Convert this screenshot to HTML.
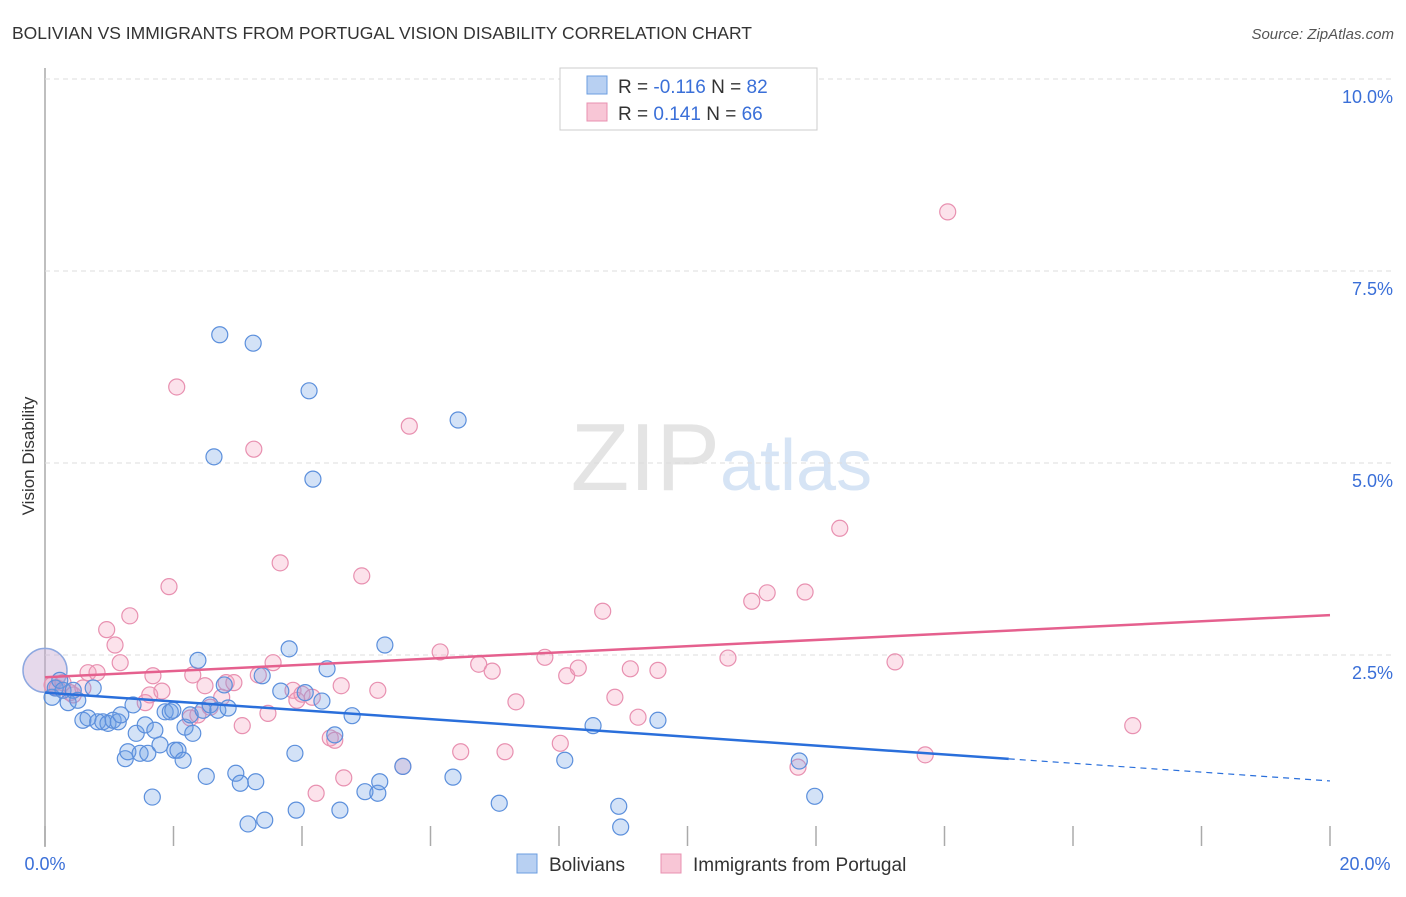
<!DOCTYPE html>
<html><head><meta charset="utf-8"><style>
body{margin:0;background:#fff;font-family:"Liberation Sans",sans-serif;}
svg text{font-family:"Liberation Sans",sans-serif;}
</style></head><body>
<svg id="chart" width="1406" height="892">
<text x="12" y="39" font-size="17.5" fill="#333">BOLIVIAN VS IMMIGRANTS FROM PORTUGAL VISION DISABILITY CORRELATION CHART</text>
<text x="1394" y="39" font-size="15" fill="#555" font-style="italic" text-anchor="end">Source: ZipAtlas.com</text>
<text x="34" y="456" font-size="17" fill="#333" transform="rotate(-90 34 456)" text-anchor="middle">Vision Disability</text>
<text x="720" y="490" font-size="96" fill="#e4e4e4" text-anchor="end" font-family="Liberation Serif">ZIP</text>
<text x="720" y="490" font-size="72" fill="#d6e4f5">atlas</text>
<g id="grid"></g><g id="pts"></g><g id="lines"></g>
<g>
<rect x="560" y="68" width="257" height="62" fill="#fff" stroke="#ccc"/>
<rect x="587" y="76" width="20" height="18" fill="#b8d0f2" stroke="#6b9ee0"/>
<rect x="587" y="103" width="20" height="18" fill="#f8c6d6" stroke="#e890b0"/>
<text x="618" y="93" font-size="19" fill="#333">R = <tspan fill="#3a6fd8">-0.116</tspan>   N = <tspan fill="#3a6fd8">82</tspan></text>
<text x="618" y="120" font-size="19" fill="#333">R =   <tspan fill="#3a6fd8">0.141</tspan>   N = <tspan fill="#3a6fd8">66</tspan></text>
</g>
<g>
<rect x="517" y="854" width="20" height="19" fill="#b8d0f2" stroke="#6b9ee0"/>
<text x="549" y="871" font-size="19" fill="#333">Bolivians</text>
<rect x="661" y="854" width="20" height="19" fill="#f8c6d6" stroke="#e890b0"/>
<text x="693" y="871" font-size="19" fill="#333">Immigrants from Portugal</text>
</g>
</svg>
<script>
const xTicks=[0,2,4,6,8,10,12,14,16,18,20];
const yTicks=[2.5,5,7.5,10];
const yTickLabels=["2.5%","5.0%","7.5%","10.0%"];
const xLabels=["0.0%","20.0%"];
const boliviansX=[0.11,0.16,0.23,0.28,0.36,0.44,0.51,0.59,0.67,0.75,0.82,0.90,0.98,1.06,1.14,1.18,1.25,1.29,1.37,1.42,1.48,1.56,1.60,1.67,1.71,1.79,1.87,1.95,1.99,2.02,2.07,2.15,2.18,2.26,2.30,2.38,2.46,2.51,2.57,2.63,2.69,2.72,2.79,2.85,2.97,3.04,3.16,3.24,3.28,3.38,3.42,3.67,3.80,3.89,3.91,4.05,4.11,4.17,4.31,4.39,4.51,4.59,4.78,4.98,5.18,5.21,5.29,5.57,6.35,6.43,7.07,8.09,8.53,8.93,8.96,9.54,11.74,11.98];
const boliviansY=[1.95,2.07,2.17,2.04,1.88,2.04,1.91,1.65,1.68,2.07,1.63,1.63,1.61,1.65,1.63,1.72,1.15,1.24,1.85,1.48,1.22,1.59,1.22,0.65,1.52,1.33,1.76,1.76,1.78,1.26,1.26,1.13,1.56,1.72,1.48,2.43,1.78,0.92,1.85,5.08,1.78,6.67,2.11,1.81,0.96,0.83,0.30,6.56,0.85,2.23,0.35,2.03,2.58,1.22,0.48,2.01,5.94,4.79,1.90,2.32,1.46,0.48,1.71,0.72,0.70,0.85,2.63,1.05,0.91,5.56,0.57,1.13,1.58,0.53,0.26,1.65,1.12,0.66];
const portugalX=[0.11,0.19,0.28,0.39,0.44,0.59,0.67,0.81,0.96,1.09,1.17,1.32,1.56,1.63,1.68,1.82,1.93,2.05,2.26,2.30,2.38,2.49,2.57,2.75,2.82,2.94,3.07,3.25,3.32,3.47,3.55,3.66,3.86,3.92,4.00,4.16,4.22,4.44,4.51,4.61,4.65,4.93,5.18,5.57,5.67,6.15,6.47,6.75,6.96,7.16,7.33,7.78,8.02,8.12,8.30,8.68,8.87,9.11,9.23,9.54,10.63,11.00,11.24,11.72,11.83,12.37,13.23,13.70,14.05,16.93];
const portugalY=[2.11,2.07,2.14,2.01,1.98,2.07,2.27,2.27,2.83,2.63,2.40,3.01,1.88,1.98,2.23,2.03,3.39,5.99,1.68,2.24,1.72,2.10,1.82,1.95,2.14,2.14,1.58,5.18,2.24,1.74,2.40,3.70,2.04,1.91,1.99,1.95,0.70,1.42,1.39,2.10,0.90,3.53,2.04,1.05,5.48,2.54,1.24,2.38,2.29,1.24,1.89,2.47,1.35,2.23,2.33,3.07,1.95,2.32,1.69,2.30,2.46,3.20,3.31,1.04,3.32,4.15,2.41,1.20,8.27,1.58];
const blueTrend=[2.01,0.86];
const pinkTrend=[2.21,3.02];
const blueSolidEnd=15;

const NS="http://www.w3.org/2000/svg";
const X=v=>45+v*64.25, Y=v=>847-v*76.8;
function mk(tag,attrs,parent){const e=document.createElementNS(NS,tag);for(const k in attrs)e.setAttribute(k,attrs[k]);parent.appendChild(e);return e;}
const grid=document.getElementById('grid'),pts=document.getElementById('pts'),lines=document.getElementById('lines');
const ax=mk('line',{x1:45,y1:68,x2:45,y2:847,stroke:'#aaa','stroke-width':1.5},grid);


mk('line',{x1:45,y1:79,x2:1394,y2:79,stroke:'#ddd','stroke-dasharray':'5,4'},grid);
yTicks.forEach((t,i)=>{
 const l=mk('line',{x1:45,y1:Y(t),x2:1394,y2:Y(t),stroke:'#ddd','stroke-dasharray':'5,4'},grid);
 
 
 const tx=mk('text',{x:1393,y:Y(t)+24,'font-size':18,fill:'#3a6fd8','text-anchor':'end'},grid);
 tx.textContent=yTickLabels[i];
 
 
});
xTicks.forEach(t=>{
 const l=mk('line',{x1:X(t),y1:826,x2:X(t),y2:846,stroke:'#aaa','stroke-width':1.5},grid);
 
 
});
const xl0=mk('text',{x:45,y:870,'font-size':18,fill:'#3a6fd8','text-anchor':'middle'},grid);xl0.textContent=xLabels[0];


const xl1=mk('text',{x:1365,y:870,'font-size':18,fill:'#3a6fd8','text-anchor':'middle'},grid);xl1.textContent=xLabels[1];


const big=mk('circle',{cx:X(0),cy:Y(2.3),r:22,fill:'rgba(200,170,210,0.45)',stroke:'#8ea8e0','stroke-width':1.5},pts);


portugalX.forEach((x,i)=>{
 const c=mk('circle',{cx:X(x),cy:Y(portugalY[i]),r:8,fill:'rgba(245,160,190,0.3)',stroke:'#e890b0','stroke-width':1.2},pts);
 
 
});
boliviansX.forEach((x,i)=>{
 const c=mk('circle',{cx:X(x),cy:Y(boliviansY[i]),r:8,fill:'rgba(110,160,230,0.3)',stroke:'#5b8fdc','stroke-width':1.2},pts);
 
 
});
const by=x=>blueTrend[0]+(blueTrend[1]-blueTrend[0])*x/20;
const bl=mk('line',{x1:X(0),y1:Y(by(0)),x2:X(blueSolidEnd),y2:Y(by(blueSolidEnd)),stroke:'#2a6fdb','stroke-width':2.5},lines);


const bd=mk('line',{x1:X(blueSolidEnd),y1:Y(by(blueSolidEnd)),x2:X(20),y2:Y(by(20)),stroke:'#2a6fdb','stroke-width':1.2,'stroke-dasharray':'6,5'},lines);


const pl=mk('line',{x1:X(0),y1:Y(pinkTrend[0]),x2:X(20),y2:Y(pinkTrend[1]),stroke:'#e5608e','stroke-width':2.5},lines);


</script>
</body></html>
